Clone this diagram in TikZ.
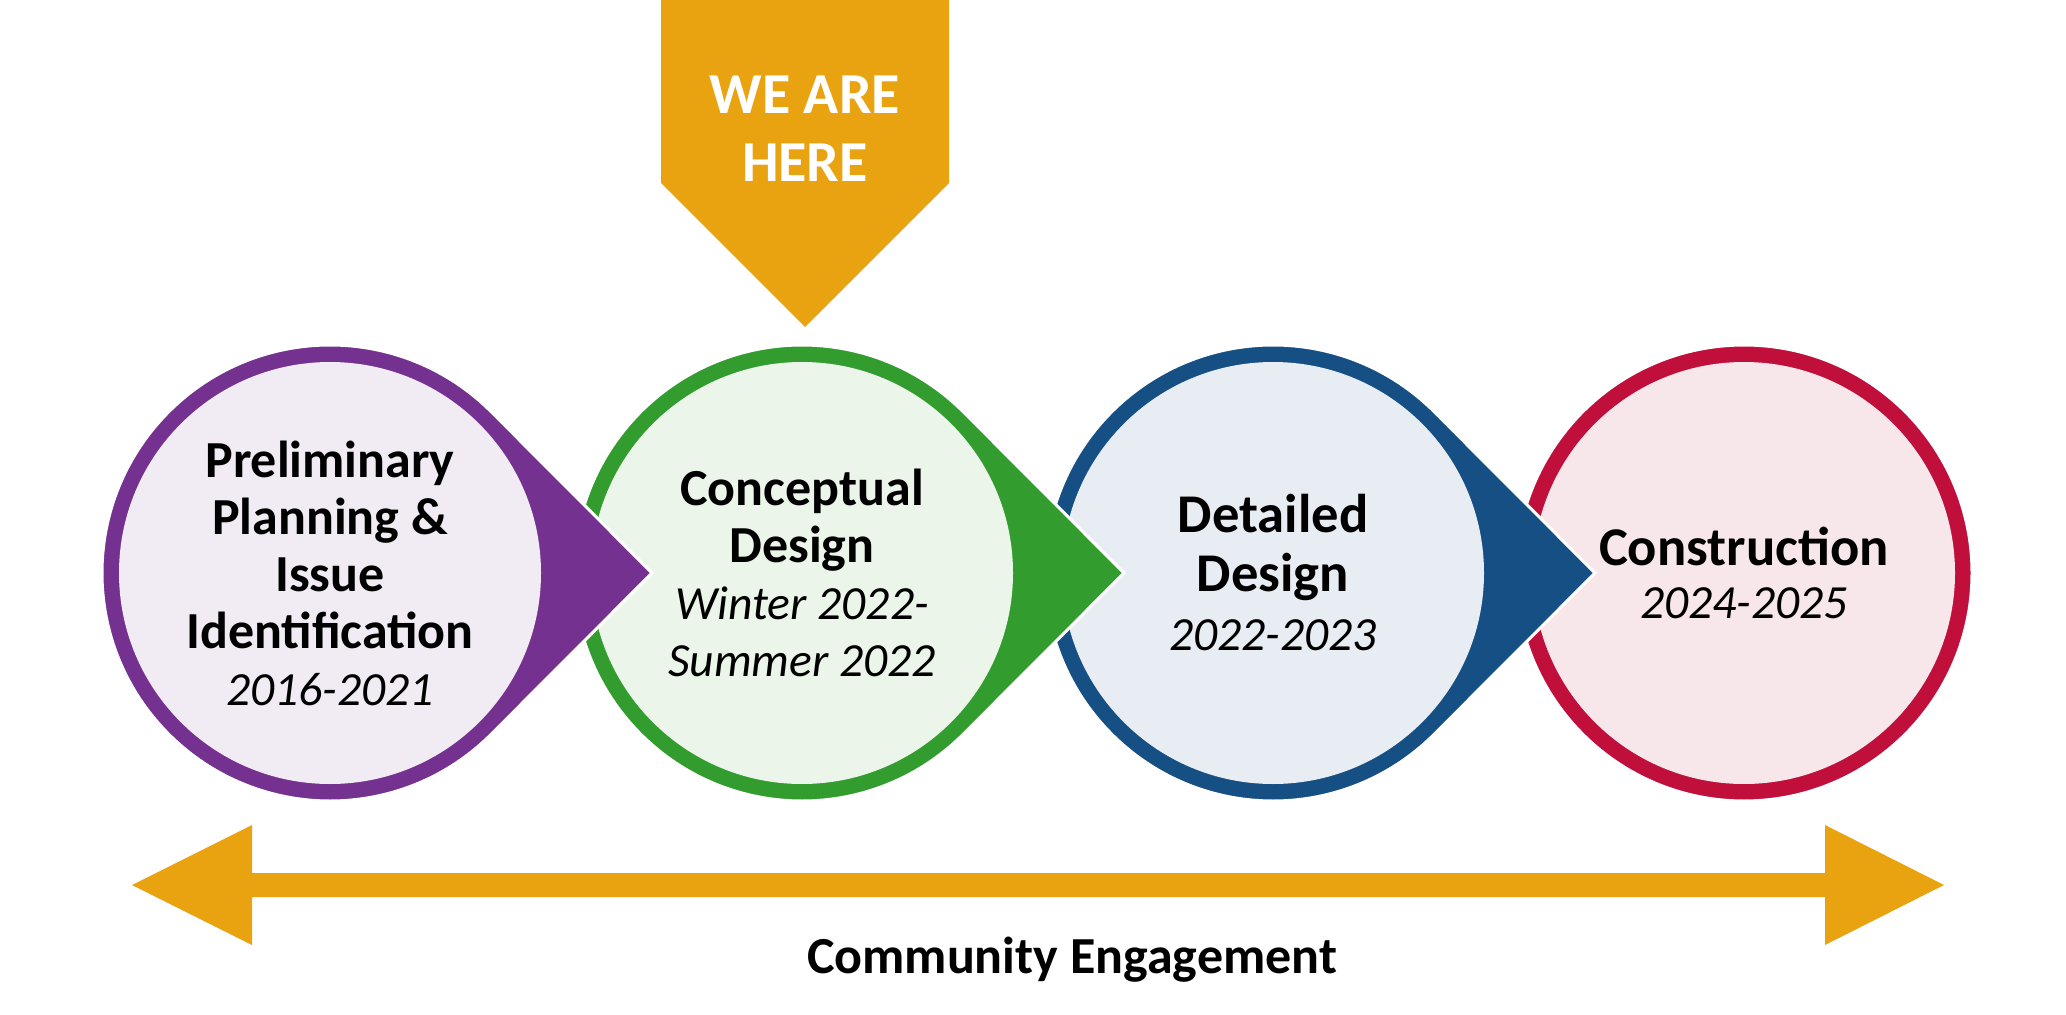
\documentclass[tikz,border=0pt]{standalone}
\usepackage{fontspec}
\setmainfont{Carlito}
\definecolor{prelimdark}{HTML}{75318F}
\definecolor{prelimlight}{HTML}{F1EBF4}
\definecolor{conceptdark}{HTML}{339C2F}
\definecolor{conceptlight}{HTML}{EBF5E9}
\definecolor{detaildark}{HTML}{164F83}
\definecolor{detaillight}{HTML}{E8EDF4}
\definecolor{builddark}{HTML}{BF0F3A}
\definecolor{buildlight}{HTML}{F8E7EA}
\definecolor{heregold}{HTML}{E9A210}
\tikzset{
	phaseouter/.style={draw=white, line width=1.5pt},
	phasetext/.style={align=center, text=black, font=\fontsize{26}{28.5}\selectfont\bfseries},
	phasetextbig/.style={align=center, text=black, font=\fontsize{27.3}{29.5}\selectfont\bfseries},
	herelabel/.style={align=center, text=white, font=\fontsize{29}{34}\selectfont\bfseries},
	engagelabel/.style={anchor=base, text=black, font=\fontsize{26}{30}\selectfont\bfseries}
}
\newcommand{\phasedate}[1]{{\normalfont\itshape\fontsize{23.8}{28.5}\selectfont #1}}
\begin{document}
	\begin{tikzpicture}[x=0.5pt, y=0.5pt]
		\useasboundingbox ( 0, 0 ) rectangle ( 2066, 1014 );

		% строительство
		\fill [builddark, phaseouter] ( 1744, 441 ) circle [radius=228];
		\fill [buildlight] ( 1744, 441 ) circle [radius=211];
		\node [phasetextbig] (build) at ( 1744, 441 ) {Construction\\[-3pt]\phasedate{2024-2025}};

		% детальный проект
		\fill [detaildark, phaseouter] ( 1273, 441 ) ++( 45:228 ) arc [start angle=45, end angle=315, radius=228] -- ( 1595, 441 ) -- cycle;
		\fill [detaillight] ( 1273, 441 ) circle [radius=211];
		\node [phasetextbig] (detail) at ( 1273, 441 ) {Detailed\\Design\\\phasedate{2022-2023}};

		% концептуальный проект
		\fill [conceptdark, phaseouter] ( 802, 441 ) ++( 45:228 ) arc [start angle=45, end angle=315, radius=228] -- ( 1124, 441 ) -- cycle;
		\fill [conceptlight] ( 802, 441 ) circle [radius=211];
		\node [phasetext] (concept) at ( 802, 441 ) {Conceptual\\Design\\\phasedate{Winter 2022-}\\\phasedate{Summer 2022}};

		% предварительное планирование
		\fill [prelimdark, phaseouter] ( 330, 441 ) ++( 45:228 ) arc [start angle=45, end angle=315, radius=228] -- ( 652, 441 ) -- cycle;
		\fill [prelimlight] ( 330, 441 ) circle [radius=211];
		\node [phasetext] (prelim) at ( 330, 441 ) {Preliminary\\Planning \&\\Issue\\Identification\\\phasedate{2016-2021}};

		% указатель
		\fill [heregold] ( 661, 1014 ) -- ( 949, 1014 ) -- ( 949, 831 ) -- ( 805, 687 ) -- ( 661, 831 ) -- cycle;
		\node [herelabel] (here) at ( 805, 885 ) {WE ARE\\HERE};

		% двойная стрелка
		\fill [heregold] ( 132, 129 ) -- ( 252, 189 ) -- ( 252, 141 ) -- ( 1825, 141 ) -- ( 1825, 189 ) -- ( 1944, 129 )
			-- ( 1825, 69 ) -- ( 1825, 117 ) -- ( 252, 117 ) -- ( 252, 69 ) -- cycle;
		\node [engagelabel] (engage) at ( 1072, 41 ) {Community Engagement};
	\end{tikzpicture}
\end{document}
